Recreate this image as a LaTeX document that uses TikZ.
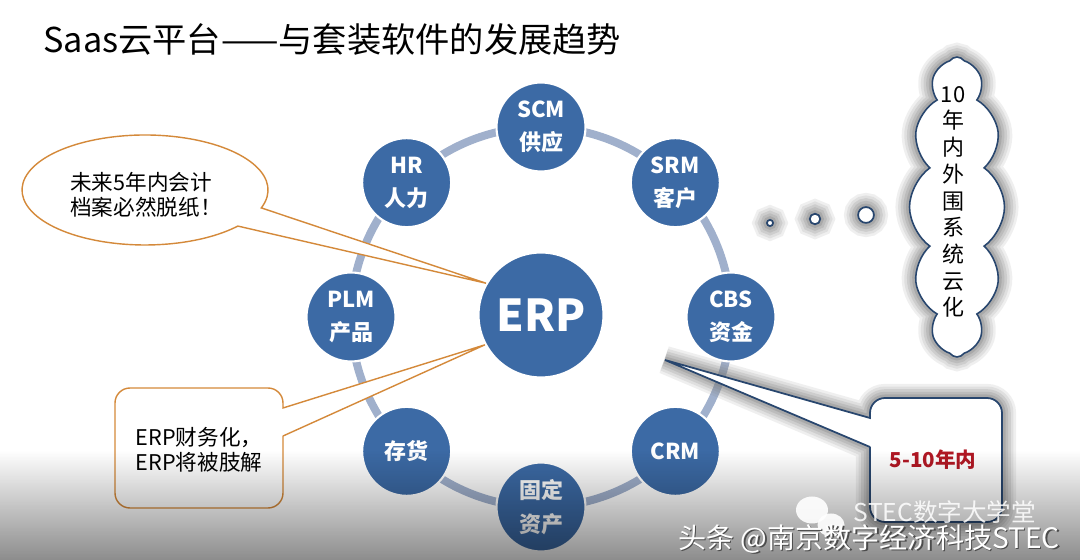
\documentclass[tikz,border=0pt]{standalone}
\usepackage{fontspec}
\setmainfont{Noto Sans CJK SC}
\usetikzlibrary{shapes.symbols,fadings}

\definecolor{modblue}{RGB}{60,106,165}
\definecolor{ringgray}{RGB}{160,176,204}
\definecolor{noteorange}{RGB}{212,137,58}
\definecolor{linknavy}{RGB}{40,70,110}
\definecolor{yearred}{RGB}{178,24,36}

\begin{document}
\begin{tikzpicture}[x=0.02cm,y=0.02cm]
    \tikzstyle{every node}+=[inner sep=0pt]
    \tikzstyle{module}=[circle, fill=modblue, draw=white, line width=1.2pt, minimum size=1.78cm, text=white, align=center, font=\fontsize{12.5}{19}\selectfont\bfseries]
    \tikzstyle{glow}=[preaction={draw=gray, line width=16pt, opacity=0.12}, preaction={draw=gray, line width=13pt, opacity=0.14}, preaction={draw=gray, line width=10pt, opacity=0.18}, preaction={draw=gray, line width=7pt, opacity=0.22}, preaction={draw=gray, line width=4pt, opacity=0.3}]
    \tikzstyle{note}=[align=center, font=\fontsize{12.3}{14.5}\selectfont]
    \useasboundingbox (0,0) rectangle (1080,-560);
    \fill[white] (0,0) rectangle (1080,-560);

    % title
    \node[anchor=west, font=\fontsize{19.5}{22}\selectfont] (title) at (43,-40) {Saas云平台——与套装软件的发展趋势};

    % ring of modules round ERP
    \coordinate (ring) at (541,-317);
    \draw[ringgray, line width=0.16cm] (ring) circle (3.8cm);
    \node[module, minimum size=2.5cm, font=\fontsize{25}{28}\selectfont\bfseries] (erp) at (541,-315) {ERP};
    \foreach \ang/\name/\txt in {90/scm/{SCM\\供应}, 45/srm/{SRM\\客户}, 0/cbs/{CBS\\资金}, -45/crm/{CRM}, -90/asset/{固定\\资产}, -135/stock/{存货}, 180/plm/{PLM\\产品}, 135/hr/{HR\\人力}}
        \node[module] (\name) at ([shift={(\ang:190)}]ring) {\txt};

    % callouts on the left
    \draw[noteorange, fill=white, line width=0.8pt] (erp.150) -- (261.3,-207.9) arc[start angle=-19, end angle=319, x radius=2.46cm, y radius=1.1cm] -- cycle;
    \node[note, align=left] (paper) at (146,-195) {未来5年内会计\\档案必然脱纸！};
    \draw[noteorange, fill=white, line width=0.8pt] (283,-436) -- (erp.208) -- (283,-408) [rounded corners=0.3cm] -- (283,-388) -- (115,-388) -- (115,-508) -- (283,-508) -- (283,-436);
    \node[note, align=left] (split) at (199,-450) {ERP财务化，\\ERP将被肢解};

    % dots and cloud on the right
    \foreach \px/\py/\d [count=\i] in {770/-223/3.5pt, 815/-219/6pt, 866/-215/9pt}
        \node[circle, draw=linknavy, fill=white, line width=1pt, minimum size=\d, glow] (dot\i) at (\px,\py) {};
    \node[cloud, cloud puffs=12, cloud puff arc=110, cloud ignores aspect, minimum width=1.9cm, minimum height=6cm, draw=linknavy, fill=white, line width=0.9pt, glow] (cloud) at (957,-207) {};
    \node[note, font=\fontsize{12.5}{15.2}\selectfont] (cloudtext) at (953,-202) {10\\年\\内\\外\\围\\系\\统\\云\\化};

    % 5-10 year box
    \coordinate (decadetip) at (665,-360);
    \draw[linknavy, fill=white, line width=1pt, glow] (870,-447) -- (decadetip) -- (870,-418) [rounded corners=0.3cm] -- (870,-398) -- (1002,-398) -- (1002,-522) -- (870,-522) -- (870,-447);
    \node[font=\fontsize{11.7}{14}\selectfont\bfseries, text=yearred] (decade) at (933,-460) {5-10年内};

    % grey band at the bottom
    \fill[black, opacity=0.45, path fading=north] (0,-450) rectangle (1080,-560);

    % watermark
    \fill[white, opacity=0.9] (812,-510) ellipse (0.32cm and 0.27cm);
    \fill[white, opacity=0.9] (831,-525) ellipse (0.27cm and 0.23cm);
    \node[font=\fontsize{14}{16}\selectfont, text=white, opacity=0.85] (wxname) at (945,-512) {STEC数字大学堂};
    \node[font=\fontsize{16}{18}\selectfont, text=black!70] (toutiaoshade) at (870.5,-540.5) {头条 @南京数字经济科技STEC};
    \node[font=\fontsize{16}{18}\selectfont, text=white] (toutiao) at (869,-539) {头条 @南京数字经济科技STEC};
\end{tikzpicture}
\end{document}
